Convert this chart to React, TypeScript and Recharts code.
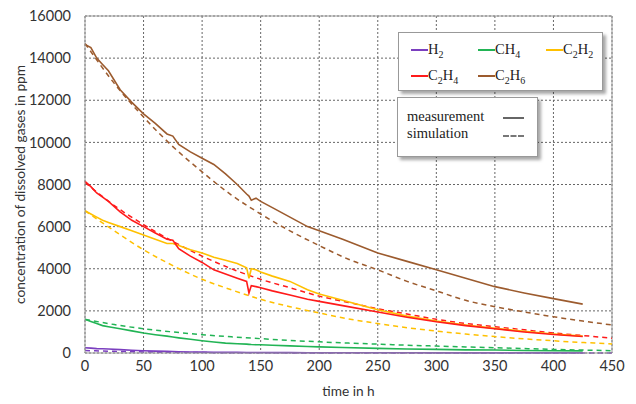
import React from 'react';
import { LineChart, Line, XAxis, YAxis, CartesianGrid, ReferenceLine } from 'recharts';

// measured time points (h)
const measTime = [0, 5, 10, 15, 20, 30, 40, 50, 60, 70, 75, 80, 90, 100, 110, 120, 130, 138, 140, 142, 146, 150, 160, 175, 190, 200, 220, 250, 275, 300, 325, 350, 375, 400, 425];
// simulated time points (h)
const simTime = [0, 25, 50, 75, 100, 125, 150, 175, 200, 225, 250, 275, 300, 325, 350, 375, 400, 425, 450];

const h2Meas = [250, 230, 210, 200, 190, 160, 130, 110, 90, 75, 70, 60, 50, 40, 35, 30, 28, 26, 25, 25, 24, 22, 20, 18, 15, 14, 12, 10, 9, 8, 7, 6, 6, 5, 5];
const ch4Meas = [1600, 1500, 1400, 1300, 1250, 1150, 1050, 950, 870, 800, 760, 720, 650, 580, 520, 470, 440, 420, 410, 400, 395, 390, 370, 340, 310, 290, 260, 220, 190, 170, 150, 140, 120, 110, 100];
const c2h2Meas = [6750, 6600, 6450, 6300, 6200, 6000, 5800, 5600, 5400, 5200, 5200, 5100, 4900, 4750, 4550, 4400, 4250, 4050, 3550, 4000, 3950, 3850, 3650, 3400, 3000, 2800, 2500, 2050, 1750, 1520, 1330, 1170, 1030, 900, 800];
const c2h4Meas = [8150, 7900, 7600, 7400, 7200, 6700, 6300, 6000, 5700, 5400, 5350, 4950, 4600, 4300, 3950, 3750, 3550, 3400, 2850, 3200, 3150, 3100, 2950, 2750, 2550, 2450, 2250, 1950, 1700, 1480, 1300, 1150, 1000, 880, 780];
const c2h6Meas = [14650, 14500, 14000, 13700, 13400, 12500, 11900, 11350, 10900, 10400, 10300, 9900, 9550, 9250, 8950, 8500, 8000, 7550, 7450, 7250, 7350, 7200, 6900, 6450, 6000, 5800, 5400, 4750, 4350, 3950, 3550, 3150, 2850, 2580, 2320];

const h2Sim = [120, 80, 50, 30, 20, 12, 8, 6, 5, 4, 3, 3, 2, 2, 2, 1, 1, 1, 1];
const ch4Sim = [1600, 1350, 1150, 1000, 870, 770, 680, 600, 530, 470, 420, 370, 330, 290, 250, 210, 170, 140, 110];
const c2h2Sim = [6750, 5800, 4900, 4150, 3500, 3000, 2550, 2200, 1900, 1620, 1400, 1200, 1040, 900, 780, 670, 580, 500, 430];
const c2h4Sim = [8100, 7000, 6100, 5300, 4600, 4000, 3500, 3100, 2700, 2400, 2100, 1850, 1600, 1400, 1250, 1100, 950, 830, 700];
const c2h6Sim = [14700, 12800, 11200, 9800, 8600, 7500, 6600, 5800, 5100, 4450, 3950, 3400, 2950, 2500, 2200, 1950, 1720, 1520, 1330];

const xTicks = [0, 50, 100, 150, 200, 250, 300, 350, 400, 450];
const yTicks = [0, 2000, 4000, 6000, 8000, 10000, 12000, 14000, 16000];

const gases = [
  { key: 'H2', base: 'H', sub: '2', color: '#7b3fbf', meas: h2Meas, sim: h2Sim },
  { key: 'CH4', base: 'CH', sub: '4', color: '#22b455', meas: ch4Meas, sim: ch4Sim },
  { key: 'C2H2', base: 'C', sub: '2', tail: '2', color: '#ffc000', meas: c2h2Meas, sim: c2h2Sim },
  { key: 'C2H4', base: 'C', sub: '2', tail: '4', color: '#ff1a1a', meas: c2h4Meas, sim: c2h4Sim },
  { key: 'C2H6', base: 'C', sub: '2', tail: '6', color: '#9c5b2e', meas: c2h6Meas, sim: c2h6Sim },
];

const toRows = (ts: number[], vs: number[]) => ts.map((t, i) => ({ t, v: vs[i] }));

const tickStyle = { fontFamily: 'Lato', fontSize: 14.5, fill: '#333' };
const labelStyle = { fontFamily: 'Lato', fontSize: 13.7, fill: '#333' };

const Formula = ({ g }: { g: any }) => (
  <span>
    {g.key.startsWith('C2') ? (
      <>C<sub style={{ fontSize: 10 }}>2</sub>H<sub style={{ fontSize: 10 }}>{g.tail}</sub></>
    ) : (
      <>{g.base}<sub style={{ fontSize: 10 }}>{g.sub}</sub></>
    )}
  </span>
);

const legendPos = [
  { left: 12, top: 8 },
  { left: 79, top: 8 },
  { left: 147, top: 8 },
  { left: 12, top: 34 },
  { left: 79, top: 34 },
];

const boxStyle: React.CSSProperties = {
  position: 'absolute',
  background: '#fff',
  border: '1px solid #999',
  boxShadow: '3px 3px 3px rgba(0,0,0,0.35)',
  fontFamily: '"Liberation Serif", serif',
  fontSize: 14.5,
  color: '#222',
};

const App = () => {
  return (
    <div style={{ position: 'absolute', left: 0, top: 0, width: 636, height: 404, background: '#fff' }}>
      <LineChart width={636} height={404} margin={{ top: 16, right: 24, left: 0, bottom: 0 }}>
        <CartesianGrid stroke="#666" strokeDasharray="2 2" />
        <XAxis
          type="number"
          dataKey="t"
          domain={[0, 450]}
          ticks={xTicks}
          height={51}
          tickLine={false}
          tickSize={0}
          tickMargin={8}
          axisLine={{ stroke: '#999' }}
          tick={tickStyle}
          label={{ value: 'time in h', position: 'insideBottom', offset: 8, style: labelStyle }}
        />
        <YAxis
          type="number"
          domain={[0, 16000]}
          ticks={yTicks}
          width={85}
          tickLine={false}
          tickSize={0}
          tickMargin={14}
          axisLine={{ stroke: '#999' }}
          tick={tickStyle}
          label={{ value: 'concentration of dissolved gases in ppm', angle: -90, position: 'insideLeft', offset: 20, style: { ...labelStyle, textAnchor: 'middle' } }}
        />
        <ReferenceLine y={16000} stroke="#999" />
        <ReferenceLine x={450} stroke="#999" />
        {gases.map((g) => (
          <Line
            key={g.key + '-sim'}
            data={toRows(simTime, g.sim)}
            dataKey="v"
            type="monotone"
            stroke={g.color}
            strokeWidth={1.5}
            strokeDasharray="5 4"
            dot={false}
            activeDot={false}
            isAnimationActive={false}
          />
        ))}
        {gases.map((g) => (
          <Line
            key={g.key + '-meas'}
            data={toRows(measTime, g.meas)}
            dataKey="v"
            type="linear"
            stroke={g.color}
            strokeWidth={1.6}
            dot={false}
            activeDot={false}
            isAnimationActive={false}
          />
        ))}
      </LineChart>

      <div style={{ ...boxStyle, left: 398, top: 32, width: 203, height: 57 }}>
        {gases.map((g, i) => (
          <div key={g.key} style={{ position: 'absolute', left: legendPos[i].left, top: legendPos[i].top, display: 'flex', alignItems: 'center', whiteSpace: 'nowrap' }}>
            <span style={{ display: 'inline-block', width: 17, height: 2, background: g.color }} />
            <Formula g={g} />
          </div>
        ))}
      </div>

      <div style={{ ...boxStyle, left: 397, top: 97, width: 139, height: 58 }}>
        <div style={{ position: 'absolute', left: 9, top: 10 }}>measurement</div>
        <div style={{ position: 'absolute', left: 9, top: 27 }}>simulation</div>
        <span style={{ position: 'absolute', left: 105, top: 19, width: 21, height: 0, borderTop: '2px solid #666' }} />
        <span style={{ position: 'absolute', left: 105, top: 37, width: 21, height: 0, borderTop: '2px dashed #777' }} />
      </div>
    </div>
  );
};

export default App;
